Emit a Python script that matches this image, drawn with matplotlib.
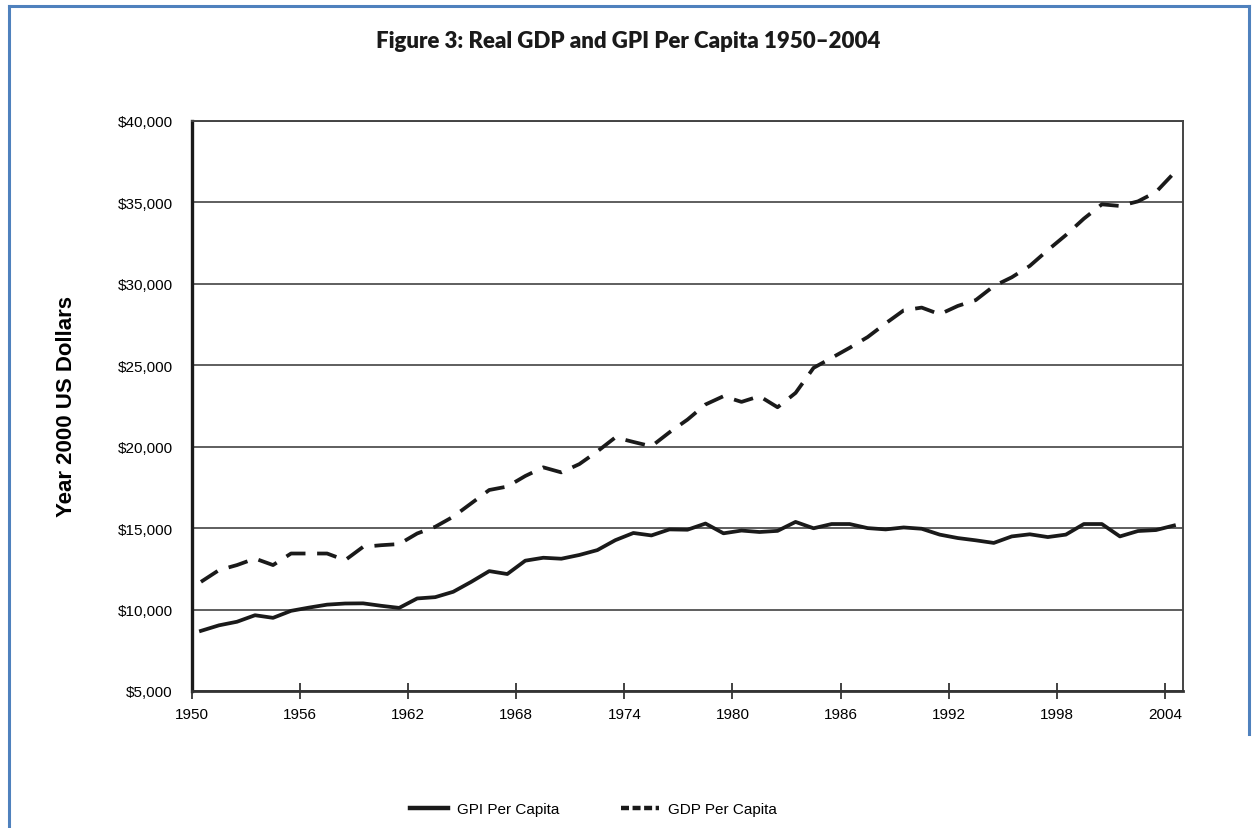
import matplotlib
matplotlib.use("Agg")
import matplotlib.pyplot as plt
from matplotlib.lines import Line2D
import numpy as np

# values (year 2000 US dollars per person)
years = list(range(1950, 2005))
gpi_per_capita = [8690, 9030, 9250, 9650, 9490, 9920, 10120, 10300, 10370, 10380,
                  10230, 10100, 10680, 10760, 11090, 11700, 12360, 12180, 13000, 13180,
                  13120, 13350, 13650, 14260, 14700, 14550, 14920, 14900, 15280, 14680,
                  14850, 14760, 14830, 15380, 14990, 15250, 15250, 15000, 14920, 15040,
                  14960, 14600, 14390, 14250, 14090, 14490, 14620, 14450, 14600, 15250,
                  15250, 14490, 14820, 14880, 15160]
gdp_per_capita = [11700, 12420, 12730, 13130, 12730, 13440, 13440, 13440, 13030, 13850,
                  13950, 14020, 14670, 15080, 15700, 16520, 17340, 17550, 18200, 18730,
                  18420, 18930, 19710, 20570, 20290, 20020, 20880, 21660, 22590, 23100,
                  22750, 23100, 22420, 23300, 24840, 25450, 26070, 26730, 27570, 28370,
                  28540, 28130, 28640, 29000, 29860, 30400, 31100, 32070, 32990, 34000,
                  34880, 34780, 35060, 35630, 36800]
tick_years = [1950, 1956, 1962, 1968, 1974, 1980, 1986, 1992, 1998, 2004]
y_ticks = [5000, 10000, 15000, 20000, 25000, 30000, 35000, 40000]

title = "Figure 3: Real GDP and GPI Per Capita 1950\u20132004"

plt.rcParams['font.family'] = ['Liberation Sans', 'DejaVu Sans']

fig = plt.figure(figsize=(12.57, 8.29), dpi=100)
ax = fig.add_axes([0.1527, 0.1653, 0.7884, 0.6876])

# categories sit between the ticks, like the original spreadsheet chart
x = np.array(years) + 0.5
ax.plot(x, gpi_per_capita, color='#1a1a1a', lw=2.7, zorder=3)
ax.plot(x, gdp_per_capita, color='#1a1a1a', lw=2.7, dashes=(5.3, 3.1), zorder=3)

ax.set_xlim(1950, 2005)
ax.set_ylim(5000, 40000)
ax.set_xticks(tick_years)
ax.set_xticklabels([str(t) for t in tick_years], fontsize=11)
ax.set_yticks(y_ticks)
ax.set_yticklabels(['${:,}'.format(v) for v in y_ticks], fontsize=11)
ax.tick_params(axis='x', direction='inout', length=11, width=1.2, color='#222222', pad=6)
ax.tick_params(axis='y', length=0, pad=14)

ax.grid(axis='y', color='#333333', lw=1.1)
ax.set_axisbelow(True)
ax.spines['left'].set_linewidth(2.4)
ax.spines['left'].set_color('#1a1a1a')
ax.spines['bottom'].set_linewidth(2.0)
ax.spines['bottom'].set_color('#333333')
ax.spines['top'].set_linewidth(1.4)
ax.spines['top'].set_color('#444444')
ax.spines['right'].set_linewidth(1.4)
ax.spines['right'].set_color('#444444')

ax.set_ylabel('Year 2000 US Dollars', fontsize=16, fontweight='bold', labelpad=29)

fig.text(0.5, 1 - 48 / 829, title, ha='center', va='baseline', fontsize=16,
         fontweight='heavy', family=['Lato', 'DejaVu Sans'], color='#1a1a1a')

handles = [Line2D([], [], color='#1a1a1a', lw=3.2),
           Line2D([], [], color='#1a1a1a', lw=3.2, dashes=(1.8, 0.8))]
fig.legend(handles, ['GPI Per Capita', 'GDP Per Capita'], loc='center',
           bbox_to_anchor=(0.472, 0.023), ncol=2, frameon=False,
           fontsize=11, handlelength=2.5, handletextpad=0.6, columnspacing=4.0)

# blue frame around the clipped figure
blue = '#4f81bd'
fig.add_artist(Line2D([9 / 1257, 9 / 1257], [0, 1 - 7 / 829], color=blue, lw=2.2,
                      transform=fig.transFigure))
fig.add_artist(Line2D([9 / 1257, 1249 / 1257], [1 - 7 / 829, 1 - 7 / 829], color=blue,
                      lw=2.2, transform=fig.transFigure))
fig.add_artist(Line2D([1249 / 1257, 1249 / 1257], [1 - 7 / 829, 1 - 735 / 829], color=blue,
                      lw=2.2, transform=fig.transFigure))

fig.savefig('out.png', dpi=100)
